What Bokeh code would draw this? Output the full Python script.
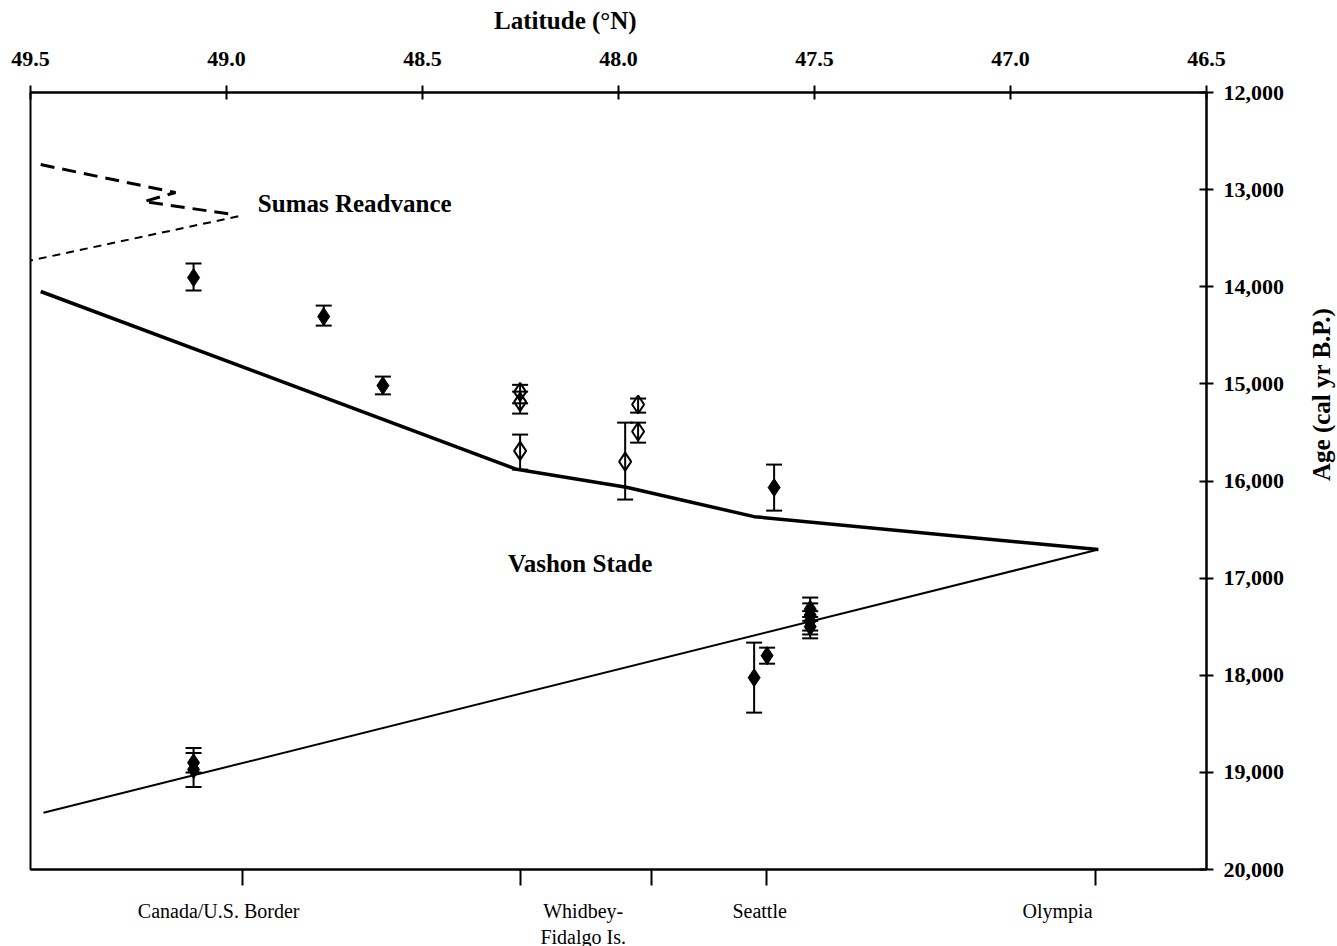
import math
from bokeh.plotting import figure
from bokeh.models import (Range1d, LinearAxis, FixedTicker, ColumnDataSource, Whisker,
                          TeeHead, CustomJSTickFormatter, NumeralTickFormatter,
                          PrintfTickFormatter)
from bokeh.embed import file_html
from bokeh.resources import INLINE
from bokeh.core.properties import value

# ---------------- data ----------------
lat_ticks = [49.5, 49.0, 48.5, 48.0, 47.5, 47.0, 46.5]
age_ticks = [12000, 13000, 14000, 15000, 16000, 17000, 18000, 19000, 20000]

place_names = ["Canada/U.S. Border", "Whidbey-\nFidalgo Is.", "Seattle", "Olympia"]
place_label_lat = [49.02, 48.09, 47.64, 46.88]
place_tick_lat = [48.96, 48.25, 47.917, 47.623, 46.783]

# filled diamonds (age, with 2-sigma range)
filled_lat = [49.084, 48.752, 48.601, 47.603, 47.654, 47.621,
              47.511, 47.511, 47.511, 47.511, 49.084, 49.084]
filled_age = [13906, 14307, 15018, 16067, 18025, 17798,
              17320, 17380, 17440, 17500, 18900, 18970]
filled_lo = [13761, 14194, 14925, 15831, 17664, 17716,
             17200, 17260, 17340, 17400, 18750, 18800]
filled_hi = [14039, 14400, 15108, 16305, 18385, 17881,
             17440, 17540, 17580, 17620, 19000, 19150]

# open diamonds
open_lat = [48.251, 48.251, 48.251, 47.983, 47.950, 47.950]
open_age = [15082, 15185, 15690, 15800, 15213, 15491]
open_lo = [15010, 15080, 15522, 15399, 15151, 15399]
open_hi = [15200, 15306, 15883, 16191, 15296, 15605]

# ice-limit lines
vashon_upper_lat = [49.474, 48.26, 47.98, 47.654, 46.776]
vashon_upper_age = [14049, 15880, 16065, 16367, 16706]
vashon_lower_lat = [46.776, 49.467]
vashon_lower_age = [16706, 19415]
sumas_long_lat = [49.474, 49.130, 49.211, 48.985]
sumas_long_age = [12742, 13030, 13123, 13255]
sumas_short_lat = [48.97, 49.5]
sumas_short_age = [13275, 13730]

area_names = ["Sumas Readvance", "Vashon Stade"]
area_lat = [48.920, 48.098]
area_age = [13143, 16851]

x_title = "Latitude (°N)"
y_title = "Age (cal yr B.P.)"

SERIF = "Liberation Serif"
NBSP = "\u00a0"

# ---------------- figure ----------------
p = figure(frame_width=1176, frame_height=777,
           x_range=Range1d(49.5, 46.5), y_range=Range1d(20000, 12000),
           x_axis_location="above", y_axis_location="right",
           output_backend="svg", toolbar_location=None,
           min_border_left=30, min_border_right=131,
           min_border_top=92, min_border_bottom=77,
           background_fill_color="white", border_fill_color="white")
p.grid.visible = False
p.outline_line_color = "black"
p.outline_line_width = 2

# top axis
xa = p.xaxis[0]
xa.ticker = FixedTicker(ticks=lat_ticks)
xa.formatter = PrintfTickFormatter(format="%.1f")
xa.major_tick_in = 7
xa.major_tick_out = 7
xa.minor_tick_line_color = None
xa.axis_line_width = 2
xa.major_tick_line_width = 2
xa.major_label_standoff = 20
xa.major_label_text_font = SERIF
xa.major_label_text_font_style = "bold"
xa.major_label_text_font_size = "22px"
xa.major_label_text_color = "black"
xa.axis_label = x_title + NBSP * 17
xa.axis_label_standoff = 15
xa.axis_label_text_font = SERIF
xa.axis_label_text_font_style = "bold"
xa.axis_label_text_font_size = "25px"
xa.axis_label_text_color = "black"

# right axis
ya = p.yaxis[0]
ya.ticker = FixedTicker(ticks=age_ticks)
ya.formatter = NumeralTickFormatter(format="0,0")
ya.major_tick_in = 7
ya.major_tick_out = 7
ya.minor_tick_line_color = None
ya.axis_line_width = 2
ya.major_tick_line_width = 2
ya.major_label_standoff = 10
ya.major_label_text_font = SERIF
ya.major_label_text_font_style = "bold"
ya.major_label_text_font_size = "22px"
ya.major_label_text_color = "black"
ya.axis_label = y_title
ya.axis_label_orientation = math.pi / 2
ya.axis_label_text_align = "center"
ya.axis_label_standoff = 34
ya.axis_label_text_font = SERIF
ya.axis_label_text_font_style = "bold"
ya.axis_label_text_font_size = "25px"
ya.axis_label_text_color = "black"

# bottom axes: tick marks, then place labels
ax_ticks = LinearAxis(ticker=FixedTicker(ticks=place_tick_lat),
                      formatter=CustomJSTickFormatter(code="return '';"),
                      major_tick_in=0, major_tick_out=16,
                      major_tick_line_width=2, axis_line_width=2,
                      minor_tick_line_color=None,
                      major_label_standoff=0,
                      major_label_text_font_size="1px")
p.add_layout(ax_ticks, "below")

ax_labels = LinearAxis(ticker=FixedTicker(ticks=place_label_lat),
                       formatter=CustomJSTickFormatter(
                           args=dict(names=place_names, lats=place_label_lat),
                           code="""
                           const i = lats.findIndex(v => Math.abs(v - tick) < 1e-6);
                           return i >= 0 ? names[i] : '';
                           """),
                       axis_line_color=None, major_tick_line_color=None,
                       minor_tick_line_color=None,
                       major_label_standoff=8,
                       major_label_text_font=SERIF,
                       major_label_text_font_size="20px",
                       major_label_text_color="black")
p.add_layout(ax_labels, "below")

# lines
p.line(vashon_upper_lat, vashon_upper_age, line_color="black", line_width=3.5)
p.line(vashon_lower_lat, vashon_lower_age, line_color="black", line_width=2)
p.line(sumas_long_lat, sumas_long_age, line_color="black", line_width=3,
       line_dash="14 8")
p.line(sumas_short_lat, sumas_short_age, line_color="black", line_width=2,
       line_dash="8 6")

# error bars
fsrc = ColumnDataSource(dict(lat=filled_lat, age=filled_age, lo=filled_lo, hi=filled_hi))
osrc = ColumnDataSource(dict(lat=open_lat, age=open_age, lo=open_lo, hi=open_hi))
for src in (fsrc, osrc):
    w = Whisker(source=src, base="lat", upper="hi", lower="lo", dimension="height",
                line_color="black", line_width=2,
                upper_head=TeeHead(size=16, line_width=2, line_color="black"),
                lower_head=TeeHead(size=16, line_width=2, line_color="black"))
    p.add_layout(w)

p.scatter("lat", "age", source=fsrc, marker="diamond", size=18,
          fill_color="black", line_color="black", line_width=1)
p.scatter("lat", "age", source=osrc, marker="diamond", size=18,
          fill_color=None, line_color="black", line_width=2)

# area labels
p.text(x=area_lat, y=area_age, text=area_names,
       text_font=value(SERIF), text_font_style="bold", text_font_size="25px",
       text_align=["left", "center"], text_baseline="middle", text_color="black")

open("out.html", "w").write(file_html(p, INLINE))
